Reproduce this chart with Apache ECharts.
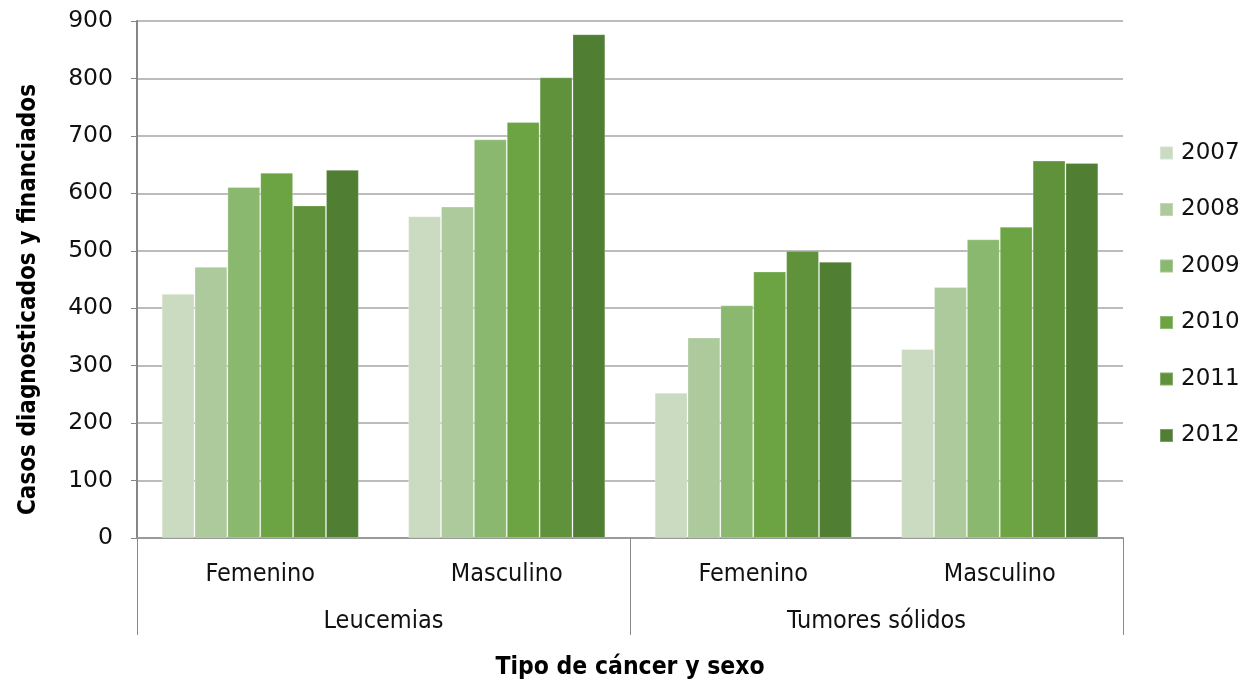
<!DOCTYPE html>
<html>
<head>
<meta charset="utf-8">
<script src="https://cdn.jsdelivr.net/npm/echarts@6/dist/echarts.min.js"></script>
<style>
  html, body { margin: 0; padding: 0; background: #fff; }
  #chart { width: 1243px; height: 681px; }
</style>
</head>
<body>
<div id="chart"></div>
<script>
// Cancer type (outer level) and sex (inner level)
const cancerTypes = ['Leucemias', 'Tumores sólidos'];
const sexCategories = ['Femenino', 'Masculino', 'Femenino', 'Masculino'];
const years = ['2007', '2008', '2009', '2010', '2011', '2012'];

// Cases per year, ordered as sexCategories
const cases2007 = [425, 560, 253, 329];
const cases2008 = [472, 577, 349, 437];
const cases2009 = [611, 694, 405, 520];
const cases2010 = [636, 724, 464, 542];
const cases2011 = [579, 802, 500, 657];
const cases2012 = [641, 877, 481, 653];

const yTicks = [0, 100, 200, 300, 400, 500, 600, 700, 800, 900];

const yearColors = ['#CADBC1', '#ADCA9D', '#8AB86F', '#6CA343', '#5F923A', '#507E33'];
const seriesValues = [cases2007, cases2008, cases2009, cases2010, cases2011, cases2012];

const chart = echarts.init(document.getElementById('chart'));

const tickFont = 'DejaVu Sans';
const catFont = '"DejaVu Sans Condensed", "Liberation Sans Narrow", sans-serif';
const titleFont = '"DejaVu Sans Condensed", "Open Sans", sans-serif';

chart.setOption({
  animation: false,
  backgroundColor: '#ffffff',
  grid: { left: 137, right: 120, top: 21, bottom: 143, containLabel: false, outerBoundsMode: 'none' },
  legend: {
    orient: 'vertical',
    left: 1159,
    top: 141,
    padding: 0,
    itemWidth: 13,
    itemHeight: 13,
    itemGap: 32.5,
    icon: 'rect',
    textStyle: { fontFamily: tickFont, fontSize: 23, lineHeight: 24, color: '#111', padding: [0, 0, 0, 3] },
    data: years
  },
  xAxis: [
    {
      type: 'category',
      position: 'bottom',
      data: sexCategories,
      axisLine: { show: true, lineStyle: { color: '#9a9a9a', width: 2 } },
      axisTick: { show: false },
      axisLabel: { fontFamily: catFont, fontSize: 25, color: '#111', margin: 24 }
    },
    {
      type: 'category',
      position: 'bottom',
      data: cancerTypes,
      gridIndex: 0,
      axisLine: { show: false },
      axisTick: { show: true, length: 97, lineStyle: { color: '#8a8a8a', width: 1 } },
      axisLabel: { fontFamily: catFont, fontSize: 25, color: '#111', margin: 71 },
      name: 'Tipo de cáncer y sexo',
      nameLocation: 'middle',
      nameGap: 117,
      nameTextStyle: { fontFamily: titleFont, fontWeight: 'bold', fontSize: 24.5, color: '#000' }
    }
  ],
  yAxis: {
    type: 'value',
    min: yTicks[0],
    max: yTicks[yTicks.length - 1],
    interval: 100,
    axisLine: { show: true, lineStyle: { color: '#868686', width: 2 } },
    axisTick: { show: true, length: 6, lineStyle: { color: '#868686', width: 1 } },
    axisLabel: { fontFamily: tickFont, fontSize: 23.5, color: '#111', margin: 24 },
    splitLine: { show: true, lineStyle: { color: '#a6a6a6', width: 1.5 } },
    name: 'Casos diagnosticados y financiados',
    nameLocation: 'middle',
    nameRotate: 90,
    nameGap: 96,
    nameTextStyle: {
      fontFamily: titleFont, fontWeight: 'bold', fontSize: 24, color: '#000',
      padding: [0, 40, 0, 0]
    }
  },
  series: years.map((y, i) => ({
    name: y,
    type: 'bar',
    xAxisIndex: 0,
    data: seriesValues[i],
    barGap: '0%',
    barCategoryGap: '20%',
    itemStyle: { color: yearColors[i], borderColor: 'rgba(255,255,255,0.25)', borderWidth: 1 }
  }))
});
</script>
</body>
</html>
